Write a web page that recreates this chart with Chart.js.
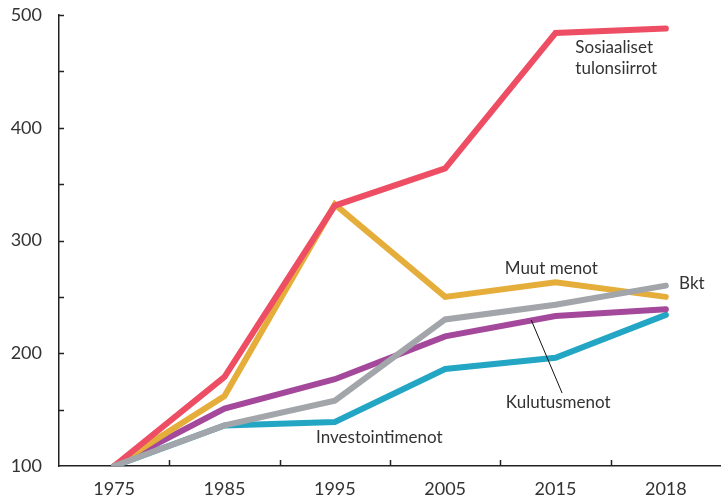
<!DOCTYPE html>
<html>
<head>
<meta charset="utf-8">
<script src="https://cdn.jsdelivr.net/npm/chart.js@4"></script>
<style>
html,body{margin:0;padding:0;background:#fff;}
#wrap{width:721px;height:497px;}
</style>
</head>
<body>
<div id="wrap"><canvas id="c" width="721" height="497"></canvas></div>
<script>
const years = ['1975','1985','1995','2005','2015','2018'];
const sosiaaliset = [100,179,331,364,484,488];
const muutMenot = [100,162,332,250,263,250];
const bkt = [100,136,158,230,243,260];
const kulutusmenot = [100,151,177,215,233,239];
const investointimenot = [100,136,139,186,196,234];
const yTicks = [100,200,300,400,500];

// annotation anchors in data space: [category position, value]
const notes = [
  {lines:['Sosiaaliset','tulonsiirrot'], x:4.18, y:471, dy:21},
  {lines:['Muut menot'], x:3.54, y:275.5},
  {lines:['Bkt'], x:5.12, y:262},
  {lines:['Kulutusmenot'], x:3.55, y:156},
  {lines:['Investointimenot'], x:1.83, y:125.7}
];
const leader = [[3.78,229.5],[4.06,164.7]];

const FONT = 'Lato, "DejaVu Sans", sans-serif';

const innerTicks = {
  id:'innerTicks',
  afterDraw(chart){
    const ctx = chart.ctx, xs = chart.scales.x, ys = chart.scales.y;
    ctx.save();
    ctx.strokeStyle = '#222';
    ctx.lineWidth = 1.5;
    ctx.beginPath();
    for (let v = 150; v <= 500; v += 50) {
      const y = Math.round(ys.getPixelForValue(v)) + 0.5;
      ctx.moveTo(xs.left, y); ctx.lineTo(xs.left + 5, y);
    }
    for (let i = 1; i < years.length; i++) {
      const x = Math.round(xs.getPixelForValue(i - 0.5)) + 0.5;
      ctx.moveTo(x, ys.bottom); ctx.lineTo(x, ys.bottom - 6);
    }
    ctx.stroke();
    // annotations
    ctx.fillStyle = '#333';
    ctx.font = '17px ' + FONT;
    ctx.textAlign = 'left';
    ctx.textBaseline = 'middle';
    notes.forEach(n => {
      const px = xs.getPixelForValue(n.x), py = ys.getPixelForValue(n.y);
      n.lines.forEach((t, k) => ctx.fillText(t, px, py + k * (n.dy || 0)));
    });
    ctx.strokeStyle = '#111';
    ctx.lineWidth = 1;
    ctx.beginPath();
    ctx.moveTo(xs.getPixelForValue(leader[0][0]), ys.getPixelForValue(leader[0][1]));
    ctx.lineTo(xs.getPixelForValue(leader[1][0]), ys.getPixelForValue(leader[1][1]));
    ctx.stroke();
    ctx.restore();
  }
};

function ds(label, data, color, order){
  return {label, data, borderColor:color, backgroundColor:color, borderWidth:6,
    pointRadius:0, borderCapStyle:'round', borderJoinStyle:'miter', tension:0, order, fill:false};
}

new Chart(document.getElementById('c'), {
  type:'line',
  data:{
    labels: years,
    datasets:[
      ds('Bkt', bkt, '#A2A5A9', 0),
      ds('Sosiaaliset tulonsiirrot', sosiaaliset, '#EE4E64', 1),
      ds('Muut menot', muutMenot, '#E5AE3B', 2),
      ds('Kulutusmenot', kulutusmenot, '#A4489B', 3),
      ds('Investointimenot', investointimenot, '#22A6C4', 4)
    ]
  },
  options:{
    responsive:false,
    animation:false,
    devicePixelRatio:1,
    layout:{padding:{top:15,right:0,left:0,bottom:0}},
    plugins:{legend:{display:false}, tooltip:{enabled:false}},
    scales:{
      x:{
        offset:true,
        grid:{display:false, offset:true, drawTicks:false},
        border:{display:true, color:'#222', width:1.5},
        ticks:{color:'#333', font:{family:FONT, size:18}, padding:12, maxRotation:0},
        afterFit(s){ s.height = 31; s.paddingLeft = 0; s.paddingRight = 0; }
      },
      y:{
        min:100, max:500,
        grid:{display:false, drawTicks:false},
        border:{display:true, color:'#222', width:1.5},
        ticks:{stepSize:100, color:'#333', font:{family:FONT, size:18}, padding:17},
        afterFit(s){ s.width = 59; s.paddingTop = 0; s.paddingBottom = 0; }
      }
    }
  },
  plugins:[innerTicks]
});
</script>
</body>
</html>
